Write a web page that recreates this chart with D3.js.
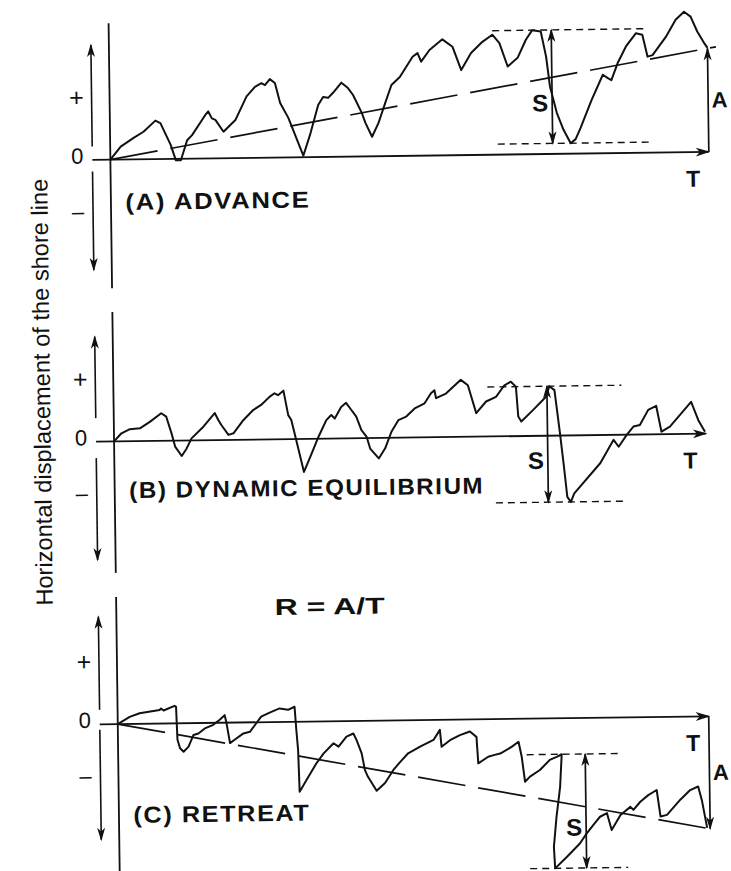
<!DOCTYPE html>
<html>
<head>
<meta charset="utf-8">
<script src="https://cdn.jsdelivr.net/npm/d3@7"></script>
<style>
  html, body { margin: 0; padding: 0; background: #fff; }
  svg { display: block; }
  text { font-family: "Liberation Sans", Arial, Helvetica, sans-serif; fill: #111; }
</style>
</head>
<body>
<svg id="chart" width="731" height="871"></svg>
<script>
// Shore-line position records: [time, displacement] (arbitrary units)
const advance = [[0,0],[2.1,2.6],[4.7,4.3],[6.7,5.5],[9.1,7.7],[10.1,7.2],[12.1,2.8],[13.1,-0.3],[14.1,-0.3],[15.4,3.7],[16.4,4.7],[19.1,8.7],[19.7,9.4],[20.4,8.0],[21.1,7.7],[22.7,5.3],[25.1,7.6],[27.4,12.3],[29.1,14.2],[30.4,14.9],[31.1,14.5],[32.1,15.7],[33.1,14.9],[34.1,10.9],[35.7,7.9],[38.6,0.3],[40.1,4.8],[41.7,10.4],[42.7,12.0],[43.7,11.8],[44.7,12.8],[46.4,14.8],[47.7,13.7],[48.7,12.3],[50.4,8.7],[51.1,6.7],[52.4,3.9],[53.7,6.6],[55.1,10.6],[56.4,14.2],[58.1,15.8],[60.7,19.8],[61.7,20.5],[62.4,18.8],[64.1,21.1],[66.7,23.2],[68.7,21.7],[70.4,17.0],[72.4,20.4],[74.7,22.6],[76.7,24.0],[78.1,22.3],[79.7,17.6],[81.7,19.3],[83.4,22.9],[84.7,24.8],[86.4,24.5],[87.4,19.5],[88.1,13.5],[89.4,8.2],[90.7,4.8],[92.1,2.1],[93.1,2.9],[94.1,5.1],[96.4,10.7],[98.7,15.7],[99.7,15.0],[100.4,14.6],[101.7,18.0],[103.4,21.3],[105.4,23.9],[106.7,23.6],[107.7,19.2],[108.7,19.5],[111.4,23.1],[113.4,26.5],[115.1,28.1],[116.4,27.1],[117.7,24.1],[119.1,21.7],[119.7,20.8]];

const equilibrium = [[0,0],[1.5,1.6],[3.2,2.4],[5.2,2.55],[7.2,3.8],[9.5,5.5],[10.5,4.8],[11.5,1.5],[12.2,-1.2],[13.5,-3.1],[14.5,-1.6],[15.5,0.4],[17.9,2.7],[20.2,5.4],[20.9,4.0],[21.5,3.0],[22.9,1.0],[23.9,1.3],[25.9,3.9],[27.9,5.9],[29.5,6.9],[31.2,8.5],[32.2,9.2],[32.9,8.8],[34.0,9.7],[34.9,4.8],[35.5,3.8],[36.5,-0.5],[37.9,-6.6],[39.2,-3.6],[40.9,0.4],[42.5,3.7],[43.5,4.7],[44.2,4.0],[45.5,6.3],[46.5,7.1],[47.5,5.7],[48.5,4.3],[49.5,1.6],[50.5,0.3],[51.2,-2.1],[52.9,-4.1],[54.2,-2.1],[55.5,1.2],[56.9,3.5],[58.5,4.2],[60.2,5.8],[62.2,6.8],[63.5,8.8],[64.2,9.4],[64.5,7.8],[66.5,8.7],[69.5,11.4],[70.9,10.3],[72.5,4.7],[74.5,7.0],[76.5,7.9],[78.2,10.2],[79.5,10.9],[80.5,9.9],[80.9,3.9],[81.5,2.9],[83.9,5.2],[86.5,7.8],[87.2,9.9],[88.2,9.1],[89.2,0.45],[89.9,-6.2],[90.5,-12.3],[91.2,-13.3],[91.9,-11.6],[97.2,-5.6],[99.9,-1.0],[100.9,-2.4],[102.5,-0.1],[103.9,1.6],[105.2,1.9],[106.9,4.9],[108.5,5.7],[109.5,0.5],[111.2,1.5],[113.5,4.1],[115.5,6.4],[116.9,2.7],[118.2,0.4]];

const retreat = [[0,0],[2.4,1.4],[4.4,2.1],[8.4,2.7],[8.7,3.0],[9.2,2.6],[11.4,3.5],[11.7,3.3],[11.9,-3.3],[12.4,-5.0],[13.1,-5.7],[14.1,-4.7],[15.1,-2.4],[16.1,-2.1],[17.4,-1.1],[19.1,-0.4],[20.4,0.6],[21.4,1.5],[21.7,0.2],[22.4,-4.1],[23.4,-3.4],[25.1,-2.2],[26.4,-1.9],[27.7,-0.2],[28.7,1.1],[30.4,1.9],[32.4,2.7],[34.1,2.4],[35.4,3.0],[35.7,-1.7],[36.0,-5.7],[36.2,-14.0],[37.6,-11.7],[39.6,-8.4],[41.1,-6.4],[43.1,-4.4],[44.1,-5.1],[45.7,-3.1],[47.1,-2.5],[47.7,-3.8],[48.7,-6.5],[49.3,-9.8],[49.9,-11.2],[51.6,-14.0],[53.3,-12.5],[55.0,-9.9],[56.4,-8.3],[58.0,-6.6],[60.4,-5.3],[63.1,-4.0],[64.4,-2.0],[64.7,-5.4],[66.4,-4.1],[68.4,-3.1],[70.4,-2.4],[71.7,-3.5],[72.0,-8.8],[74.0,-7.5],[75.1,-7.2],[76.4,-6.9],[78.7,-5.6],[80.1,-4.6],[80.7,-7.6],[81.3,-12.6],[82.3,-11.6],[84.3,-10.3],[86.3,-8.3],[87.7,-7.7],[88.7,-7.2],[88.3,-13.7],[87.5,-19.7],[86.9,-25.7],[87.1,-30.0],[89.5,-27.7],[92.1,-25.1],[93.5,-23.1],[95.1,-21.1],[96.2,-19.8],[97.6,-19.1],[98.5,-22.5],[100.3,-19.5],[102.3,-17.9],[102.9,-18.5],[104.3,-16.9],[105.9,-15.6],[107.6,-14.6],[108.3,-19.9],[109.6,-19.6],[112.3,-16.6],[114.3,-14.7],[115.9,-14.0],[116.6,-16.7],[117.6,-22.3]];

// Panel titles and annotation values
const panelTitles = ["(A) ADVANCE", "(B) DYNAMIC EQUILIBRIUM", "(C) RETREAT"];
const timeEnd = [119.7, 118.4, 118.2];          // T, length of the record
const netChange = [20.7, null, -22.5];           // A, net displacement at T
const trendReach = [121.4, null, 118.2];         // how far the trend line is drawn
const swingAt = [88.5, 86.7, 93.4];              // where S is measured
const swingHigh = [24.8, 9.9, -7.2];
const swingLow = [2.1, -13.3, -30.0];
const swingGuideHigh = [[76.7, 107.1], [74.8, 101.6], [81.7, 100.0]];
const swingGuideLow = [[77.5, 108.1], [76.2, 102.2], [82.1, 101.7]];
const axisTop = [27.3, 25.9, 25.4];
const axisBottom = [-25.7, -26.3, -32];
const upArrow = [[2.7, 23], [4.7, 21], [2.9, 21.5]];
const downArrow = [[-2.3, -22], [-3.3, -23.7], [-1.1, -23.1]];
const signLabels = ["+", "0", "\u2013"];
const signLevels = [12.6, 0.8, -10.3];
const signSizes = [25, 22, 22];
const titleLevel = [-10.1, -11.4, -19.8];
const titleWidth = [185, 355, 177];

// Layout
const zeroLines = [156.4, 438.1, 720.8];
const INK = "#111";

const svg = d3.select("#chart");
const defs = svg.append("defs");
function addHead(id, w, h) {
  defs.append("marker")
    .attr("id", id)
    .attr("viewBox", `${-w - 1} ${-h} ${w + 3} ${2 * h}`)
    .attr("refX", 0).attr("refY", 0)
    .attr("markerWidth", w + 3).attr("markerHeight", 2 * h)
    .attr("markerUnits", "userSpaceOnUse")
    .attr("orient", "auto-start-reverse")
    .append("path")
    .attr("d", `M1.5,0 L${-w},${-h * 0.8} L${-w * 0.7},0 L${-w},${h * 0.8} Z`)
    .attr("fill", INK);
}
addHead("head", 13, 5.5);
addHead("headSmall", 12, 5);

// the whole sheet sits at a slight tilt
const sheet = svg.append("g").attr("transform", "rotate(-0.75,365,435)");

const x = d3.scaleLinear().domain([0, 120]).range([114, 714]);
const seriesList = [advance, equilibrium, retreat];

function boldLabel(sel, size) {
  return sel.attr("font-size", size).attr("font-weight", "bold");
}

seriesList.forEach((series, i) => {
  const zero = zeroLines[i];
  const y = d3.scaleLinear().domain([-30, 30]).range([zero + 150, zero - 150]);
  const p = sheet.append("g");

  // time axis
  p.append("line")
    .attr("x1", x(-3.6)).attr("x2", x(timeEnd[i]))
    .attr("y1", y(0)).attr("y2", y(0))
    .attr("stroke", INK).attr("stroke-width", 1.8)
    .attr("marker-end", "url(#head)");

  // displacement axis
  p.append("line")
    .attr("x1", x(0)).attr("x2", x(0))
    .attr("y1", y(axisTop[i])).attr("y2", y(axisBottom[i]))
    .attr("stroke", INK).attr("stroke-width", 1.8);

  // direction arrows
  [upArrow[i], downArrow[i]].forEach(a => {
    p.append("line")
      .attr("x1", x(-3.6)).attr("x2", x(-3.6))
      .attr("y1", y(a[0])).attr("y2", y(a[1]))
      .attr("stroke", INK).attr("stroke-width", 1.6)
      .attr("marker-end", "url(#headSmall)");
  });

  signLabels.forEach((s, k) => {
    p.append("text")
      .attr("x", x(-6.6)).attr("y", y(signLevels[k]))
      .attr("text-anchor", "middle").attr("dominant-baseline", "central")
      .attr("font-size", signSizes[k]).attr("fill", "#1a1a1a")
      .text(s);
  });

  // trend line
  if (netChange[i] !== null) {
    const slope = netChange[i] / timeEnd[i];
    p.append("line")
      .attr("x1", x(0)).attr("y1", y(0))
      .attr("x2", x(trendReach[i])).attr("y2", y(slope * trendReach[i]))
      .attr("stroke", INK).attr("stroke-width", 1.7)
      .attr("stroke-dasharray", "48,13");
  }

  // shore-line record
  p.append("path")
    .datum(series)
    .attr("fill", "none").attr("stroke", INK)
    .attr("stroke-width", 2).attr("stroke-linejoin", "round")
    .attr("d", d3.line().x(d => x(d[0])).y(d => y(d[1])));

  // swing guides and S arrow
  [[swingGuideHigh[i], swingHigh[i]], [swingGuideLow[i], swingLow[i]]].forEach(([span, v]) => {
    p.append("line")
      .attr("x1", x(span[0])).attr("x2", x(span[1]))
      .attr("y1", y(v)).attr("y2", y(v))
      .attr("stroke", INK).attr("stroke-width", 1.4)
      .attr("stroke-dasharray", "7,5");
  });
  p.append("line")
    .attr("x1", x(swingAt[i])).attr("x2", x(swingAt[i]))
    .attr("y1", y(swingLow[i])).attr("y2", y(swingHigh[i]))
    .attr("stroke", INK).attr("stroke-width", 1.7)
    .attr("marker-start", "url(#headSmall)")
    .attr("marker-end", "url(#headSmall)");
  boldLabel(p.append("text"), 24)
    .attr("x", x(swingAt[i] - 2.4))
    .attr("y", y((swingHigh[i] + swingLow[i]) / 2 - 3.2))
    .attr("text-anchor", "middle").attr("dominant-baseline", "central")
    .text("S");

  // net change arrow
  if (netChange[i] !== null) {
    p.append("line")
      .attr("x1", x(timeEnd[i])).attr("x2", x(timeEnd[i]))
      .attr("y1", y(0)).attr("y2", y(netChange[i]))
      .attr("stroke", INK).attr("stroke-width", 1.7)
      .attr("marker-end", "url(#headSmall)");
    boldLabel(p.append("text"), 22)
      .attr("x", x(timeEnd[i] + 2.3)).attr("y", y(netChange[i] / 2))
      .attr("text-anchor", "middle").attr("dominant-baseline", "central")
      .text("A");
  }

  // T label
  boldLabel(p.append("text"), 23)
    .attr("x", x(timeEnd[i] - 3.2)).attr("y", y(-5.3))
    .attr("text-anchor", "middle").attr("dominant-baseline", "central")
    .text("T");

  // panel title
  boldLabel(p.append("text"), 23)
    .attr("x", x(2.9)).attr("y", y(titleLevel[i]))
    .attr("letter-spacing", 1.5)
    .attr("textLength", titleWidth[i]).attr("lengthAdjust", "spacingAndGlyphs")
    .text(panelTitles[i]);

  if (i === 2) {
    boldLabel(p.append("text"), 23)
      .attr("x", x(31.7)).attr("y", y(21.4))
      .attr("textLength", 110).attr("lengthAdjust", "spacingAndGlyphs")
      .text("R = A/T");
  }
});

// shared vertical title
sheet.append("text")
  .attr("transform", "translate(50.6,388) rotate(-90)")
  .attr("text-anchor", "middle")
  .attr("font-size", 23.5)
  .attr("textLength", 427).attr("lengthAdjust", "spacingAndGlyphs")
  .text("Horizontal displacement of the shore line");
</script>
</body>
</html>
